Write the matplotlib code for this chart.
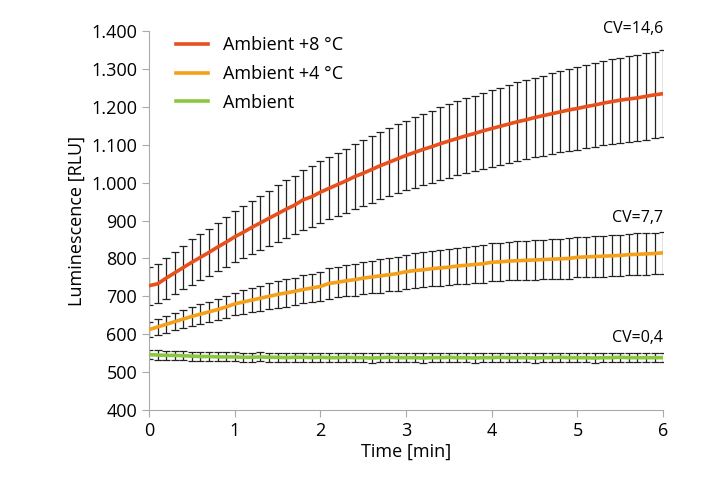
import numpy as np
import matplotlib.pyplot as plt
from matplotlib.ticker import FuncFormatter

plt.rcParams["font.family"] = "Open Sans"

time = [i / 10 for i in range(61)]

red = [728, 733, 748, 762, 776, 790, 803, 816, 830, 843, 857, 869, 882, 894, 906, 918, 930, 941, 955, 963,
       975, 985, 995, 1005, 1016, 1025, 1035, 1045, 1054, 1063, 1072, 1080, 1088, 1095, 1103, 1110, 1117, 1124,
       1130, 1137, 1143, 1149, 1155, 1161, 1166, 1172, 1177, 1182, 1187, 1192, 1196, 1201, 1205, 1210, 1214,
       1218, 1221, 1224, 1228, 1232, 1235]
red_err = [50, 52, 54, 56, 58, 60, 61, 63, 64, 66, 67, 69, 70, 72, 73, 75, 76, 77, 79, 80,
           81, 82, 84, 85, 86, 87, 88, 89, 90, 91, 92, 93, 94, 95, 96, 97, 98, 99, 100, 100,
           101, 102, 103, 104, 104, 105, 106, 107, 107, 108, 109, 110, 110, 111, 112, 112, 113, 113, 114, 114, 115]

orange = [612, 619, 626, 633, 640, 647, 653, 659, 665, 672, 680, 685, 690, 695, 700, 705, 709, 713, 718, 722,
          726, 734, 737, 741, 744, 748, 751, 754, 757, 760, 765, 768, 770, 773, 775, 777, 780, 782, 784, 786,
          790, 791, 793, 794, 795, 796, 797, 798, 799, 800, 803, 804, 805, 806, 807, 808, 810, 811, 812, 813, 815]
orange_err = [20, 21, 22, 23, 24, 25, 26, 27, 28, 29, 30, 31, 32, 33, 34, 35, 36, 36, 37, 38,
              39, 40, 40, 41, 42, 42, 43, 44, 44, 45, 45, 46, 46, 47, 47, 48, 48, 49, 49, 50,
              50, 50, 51, 51, 51, 52, 52, 52, 53, 53, 53, 53, 54, 54, 54, 54, 55, 55, 55, 55, 55]

green = [546, 545, 544, 544, 543, 542, 541, 541, 540, 540, 540, 539, 539, 540, 539, 539, 538, 539, 539, 538,
         539, 538, 538, 539, 538, 538, 537, 538, 539, 538, 538, 538, 537, 538, 538, 539, 538, 538, 537, 538,
         538, 539, 538, 538, 538, 537, 538, 538, 539, 538, 538, 538, 537, 538, 538, 539, 538, 538, 538, 538, 538]
green_err = [12] * 61

fig = plt.figure(figsize=(7.2, 4.8), dpi=100)
ax = fig.add_axes([0.207, 0.146, 0.714, 0.789])

for y, e, c, lab in [(green, green_err, "#8cc63f", "Ambient"),
                     (orange, orange_err, "#f5a01a", "Ambient +4 °C"),
                     (red, red_err, "#e8501e", "Ambient +8 °C")]:
    ax.errorbar(time, y, yerr=e, fmt="none", ecolor="#222222", elinewidth=0.9, capsize=3, capthick=0.9)
    ax.plot(time, y, color=c, lw=2.6, label=lab, zorder=3)

h, l = ax.get_legend_handles_labels()
ax.legend(h[::-1], l[::-1], loc="upper left", bbox_to_anchor=(0.02, 1.03), frameon=False,
          fontsize=13, handlelength=1.8, labelspacing=0.6)

ax.text(6, 1385, "CV=14,6", ha="right", va="bottom", fontsize=11.5)
ax.text(6, 885, "CV=7,7", ha="right", va="bottom", fontsize=11.5)
ax.text(6, 570, "CV=0,4", ha="right", va="bottom", fontsize=11.5)

ax.set_xlim(0, 6)
ax.set_ylim(400, 1400)
ax.set_yticks(range(400, 1401, 100))
ax.yaxis.set_major_formatter(FuncFormatter(lambda v, p: f"{int(v):,}".replace(",", ".")))
ax.set_xlabel("Time [min]", fontsize=13, labelpad=2)
ax.set_ylabel("Luminescence [RLU]", fontsize=13)
ax.tick_params(labelsize=13, color="#aaaaaa", length=5)
for s in ["top", "right"]:
    ax.spines[s].set_visible(False)
for s in ["left", "bottom"]:
    ax.spines[s].set_color("#aaaaaa")

fig.savefig("out.png")
